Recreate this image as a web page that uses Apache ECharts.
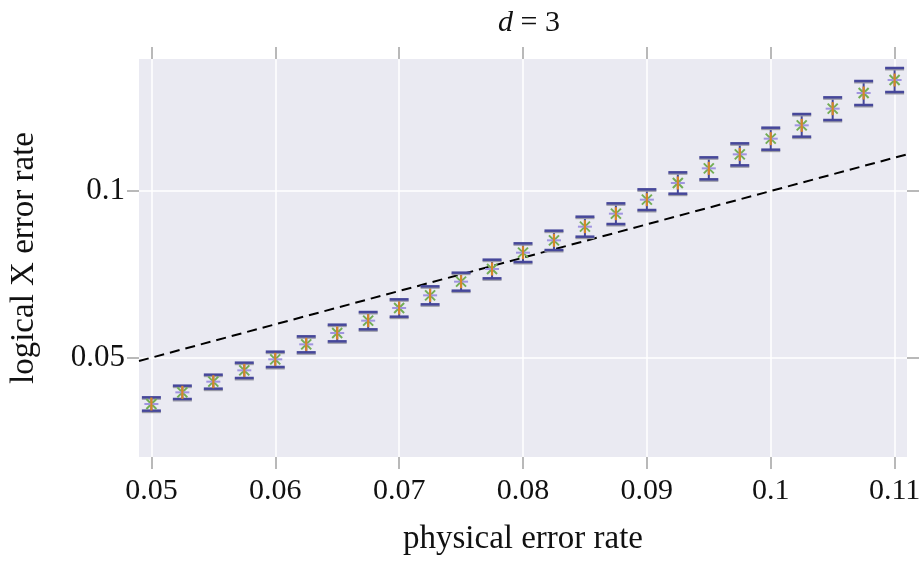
<!DOCTYPE html>
<html>
<head>
<meta charset="utf-8">
<script src="https://cdn.jsdelivr.net/npm/echarts@6/dist/echarts.min.js"></script>
<style>
  html, body { margin: 0; padding: 0; background: #fff; width: 924px; height: 561px; overflow: hidden; }
  #chart { width: 924px; height: 561px; }
</style>
</head>
<body>
<div id="chart"></div>
<script>
// physical error rates (x) and measured logical X error rates with error bars
const physRate = [0.05, 0.0525, 0.055, 0.0575, 0.06, 0.0625, 0.065, 0.0675, 0.07, 0.0725,
  0.075, 0.0775, 0.08, 0.0825, 0.085, 0.0875, 0.09, 0.0925, 0.095, 0.0975,
  0.1, 0.1025, 0.105, 0.1075, 0.11]
const logicalRate = [0.0361, 0.0396, 0.0428, 0.0462, 0.0495, 0.0540, 0.0574, 0.0611, 0.0649, 0.0687,
  0.0728, 0.0766, 0.0815, 0.0852, 0.0893, 0.0932, 0.0974, 0.1024, 0.1068, 0.1110,
  0.1157, 0.1197, 0.1247, 0.1294, 0.1333]
const logicalErr = [0.0020, 0.0020, 0.0021, 0.0023, 0.0023, 0.0024, 0.0025, 0.0026, 0.0026, 0.0027,
  0.0027, 0.0028, 0.0028, 0.0029, 0.0030, 0.0031, 0.0031, 0.0032, 0.0033, 0.0033,
  0.0033, 0.0034, 0.0034, 0.0036, 0.0036]
const xTicks = [0.05, 0.06, 0.07, 0.08, 0.09, 0.1, 0.11]
const yTicks = [0.05, 0.1]
const breakEven = [[0.049, 0.049], [0.111, 0.111]]   // y = x

const FONT = 'Liberation Serif'
const BLUE = '#46479a'
const TICK = '#a3a3a3'

const points = physRate.map((x, i) => [x, logicalRate[i], logicalErr[i]])

function renderBar(params, api) {
  const x = api.value(0), y = api.value(1), e = api.value(2)
  const c = api.coord([x, y])
  const t = api.coord([x, y + e])
  const b = api.coord([x, y - e])
  const w = 9.5, m = 5
  const ln = (x1, y1, x2, y2, stroke, lw) => ({
    type: 'line', shape: { x1, y1, x2, y2 }, style: { stroke, lineWidth: lw }
  })
  return {
    type: 'group',
    children: [
      ln(c[0], t[1], c[0], b[1], BLUE, 2),
      ln(c[0] - w, t[1] + 1.5, c[0] + w, t[1] + 1.5, '#9a9aa6', 2),
      ln(c[0] - w, b[1] + 1.5, c[0] + w, b[1] + 1.5, '#9a9aa6', 2),
      ln(c[0] - w, t[1], c[0] + w, t[1], BLUE, 2.5),
      ln(c[0] - w, b[1], c[0] + w, b[1], BLUE, 2.5),
      ln(c[0] - m, c[1] - m, c[0] + m, c[1] + m, '#72ad55', 2),
      ln(c[0] - m, c[1] + m, c[0] + m, c[1] - m, '#72ad55', 2),
      ln(c[0] - 7, c[1], c[0] + 7, c[1], '#a094e0', 2),
      ln(c[0], c[1] - 6.5, c[0], c[1] + 6.5, '#d8862a', 2.2)
    ]
  }
}

const chart = echarts.init(document.getElementById('chart'))

const xBase = {
  type: 'value', min: 0.049, max: 0.111,
  axisLine: { show: false },
  axisTick: { show: true, inside: false, length: 12, customValues: xTicks,
    lineStyle: { color: TICK, width: 1.5 } }
}
const yBase = {
  type: 'value', min: 0.0202, max: 0.1396,
  axisLine: { show: false },
  axisTick: { show: true, inside: false, length: 12, customValues: yTicks,
    lineStyle: { color: TICK, width: 1.5 } }
}

chart.setOption({
  backgroundColor: '#fff',
  animation: false,
  title: {
    text: '{i|d} = 3',
    left: 524, textAlign: 'center', top: 3,
    textStyle: {
      fontFamily: FONT, fontSize: 30, fontWeight: 'normal', color: '#111',
      rich: { i: { fontFamily: FONT, fontSize: 30, fontStyle: 'italic', color: '#111' } }
    }
  },
  grid: { left: 137, right: 17, top: 59, bottom: 101, containLabel: false,
    show: true, backgroundColor: '#eaeaf2', borderWidth: 0 },
  xAxis: [
    Object.assign({}, xBase, {
      position: 'bottom',
      name: 'physical error rate', nameLocation: 'middle', nameGap: 66,
      nameTextStyle: { fontFamily: FONT, fontSize: 33, color: '#111' },
      axisLabel: { customValues: xTicks, margin: 19, fontFamily: FONT, fontSize: 30, color: '#111' },
      splitLine: { show: true, lineStyle: { color: '#fff', width: 1.5 } }
    }),
    Object.assign({}, xBase, {
      position: 'top',
      axisLabel: { show: false },
      splitLine: { show: false }
    })
  ],
  yAxis: [
    Object.assign({}, yBase, {
      position: 'left',
      name: 'logical X error rate', nameLocation: 'middle', nameGap: 98,
      nameTextStyle: { fontFamily: FONT, fontSize: 33, color: '#111' },
      axisLabel: { customValues: yTicks, margin: 14, fontFamily: FONT, fontSize: 31, color: '#111' },
      splitLine: { show: true, lineStyle: { color: '#fff', width: 1.5 } }
    }),
    Object.assign({}, yBase, {
      position: 'right',
      axisLabel: { show: false },
      splitLine: { show: false }
    })
  ],
  series: [
    {
      type: 'line',
      data: breakEven,
      symbol: 'none',
      lineStyle: { color: '#000', width: 2, type: [10, 6] },
      z: 2
    },
    {
      type: 'custom',
      data: points,
      renderItem: renderBar,
      encode: { x: 0, y: 1 },
      z: 3
    }
  ]
})
</script>
</body>
</html>
